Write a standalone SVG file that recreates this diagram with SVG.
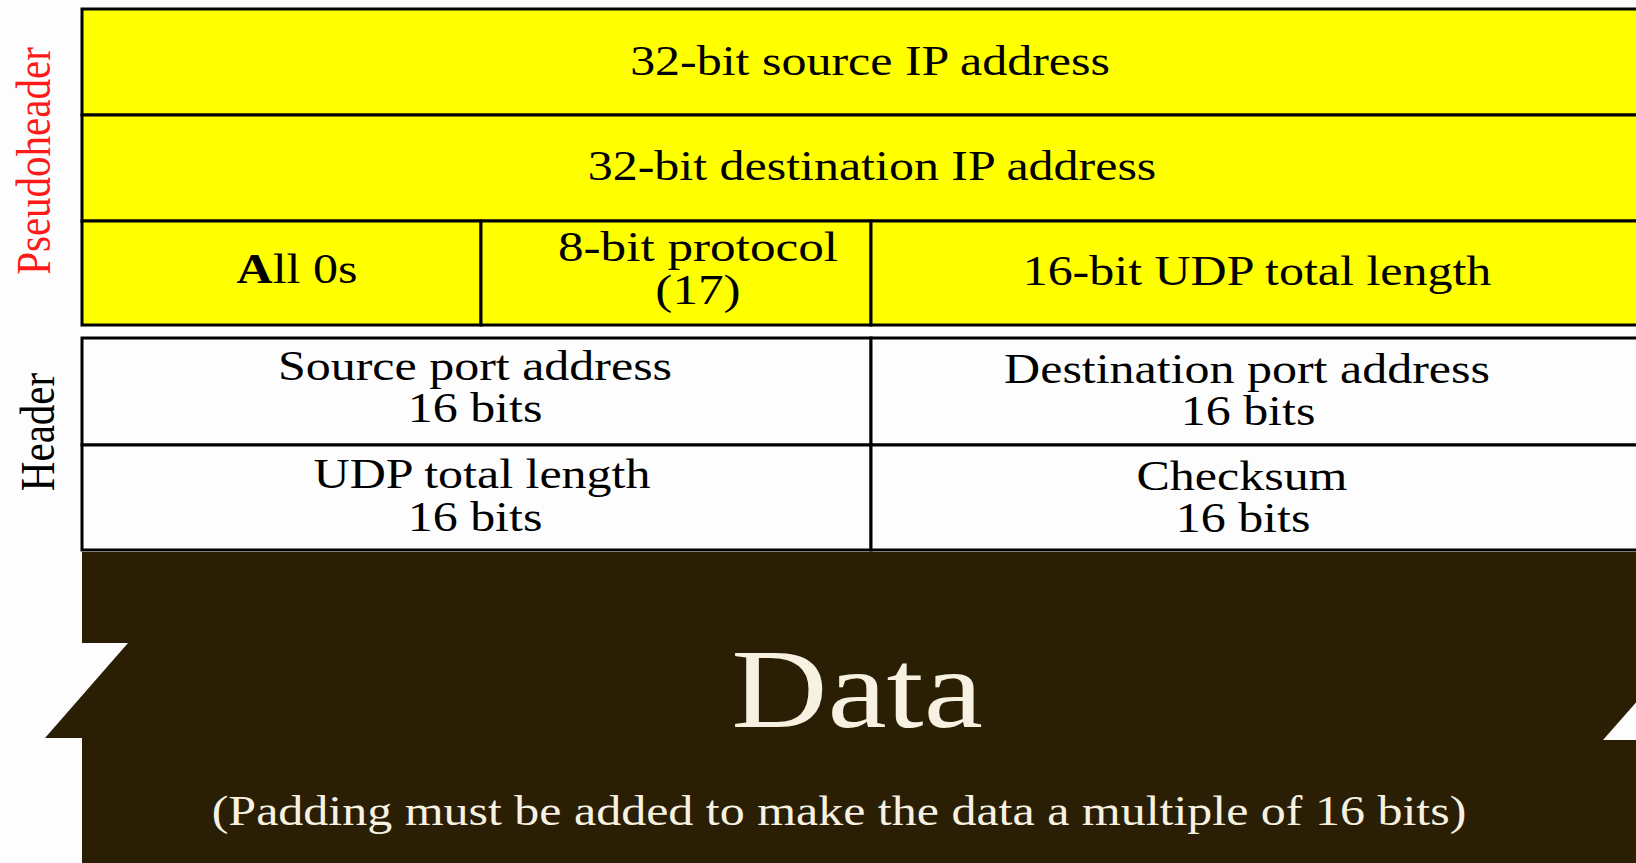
<svg xmlns="http://www.w3.org/2000/svg" width="1636" height="863" viewBox="0 0 1636 863">
  <style>
    .cell { stroke: #000; stroke-width: 3; }
    .pseudo { fill: #ffff00; }
    .hdr { fill: #fdfdfd; }
    .t { font-family: "Liberation Serif", "Times New Roman", serif; font-size: 42px; fill: #000; text-anchor: middle; }
    .side { font-family: "Liberation Serif", "Times New Roman", serif; font-size: 41px; text-anchor: middle; }
    .light { fill: #f7f1e1; font-family: "Liberation Serif", "Times New Roman", serif; text-anchor: middle; }
  </style>

  <rect x="0" y="0" width="1636" height="863" fill="#fdfdfd"/>

  <!-- side labels -->
  <g id="label-pseudoheader">
    <text class="side" fill="#ff1a1a" transform="translate(50,161) scale(1.19,1) rotate(-90)">Pseudoheader</text>
  </g>
  <g id="label-header">
    <text class="side" fill="#000" transform="translate(54,432) scale(1.19,1) rotate(-90)">Header</text>
  </g>

  <!-- pseudoheader rows -->
  <g id="src-ip">
    <rect class="cell pseudo" x="82" y="9" width="1580" height="106"/>
    <text class="t" transform="translate(870,75) scale(1.19,1)">32-bit source IP address</text>
  </g>
  <g id="dst-ip">
    <rect class="cell pseudo" x="82" y="115" width="1580" height="106"/>
    <text class="t" transform="translate(872,180) scale(1.19,1)">32-bit destination IP address</text>
  </g>
  <g id="all-zeros">
    <rect class="cell pseudo" x="82" y="221" width="399" height="104"/>
    <text class="t" transform="translate(297,283) scale(1.19,1)"><tspan font-weight="bold">A</tspan>ll 0s</text>
  </g>
  <g id="protocol">
    <rect class="cell pseudo" x="481" y="221" width="390" height="104"/>
    <text class="t" font-size="41" transform="translate(698,261) scale(1.22,1)">8-bit protocol</text>
    <text class="t" font-size="41" transform="translate(698,304) scale(1.22,1)">(17)</text>
  </g>
  <g id="udp-length-pseudo">
    <rect class="cell pseudo" x="871" y="221" width="791" height="104"/>
    <text class="t" transform="translate(1257,285) scale(1.19,1)">16-bit UDP total length</text>
  </g>

  <!-- UDP header rows -->
  <g id="src-port">
    <rect class="cell hdr" x="82" y="338" width="789" height="107"/>
    <text class="t" transform="translate(475,380) scale(1.19,1)">Source port address</text>
    <text class="t" transform="translate(475,422) scale(1.19,1)">16 bits</text>
  </g>
  <g id="dst-port">
    <rect class="cell hdr" x="871" y="338" width="791" height="107"/>
    <text class="t" transform="translate(1247,383) scale(1.19,1)">Destination port address</text>
    <text class="t" transform="translate(1248,425) scale(1.19,1)">16 bits</text>
  </g>
  <g id="udp-length">
    <rect class="cell hdr" x="82" y="445" width="789" height="105"/>
    <text class="t" transform="translate(482,488) scale(1.19,1)">UDP total length</text>
    <text class="t" transform="translate(475,531) scale(1.19,1)">16 bits</text>
  </g>
  <g id="checksum">
    <rect class="cell hdr" x="871" y="445" width="791" height="105"/>
    <text class="t" transform="translate(1242,490) scale(1.19,1)">Checksum</text>
    <text class="t" transform="translate(1243,532) scale(1.19,1)">16 bits</text>
  </g>

  <!-- data block with break marks on both sides -->
  <g id="data">
    <polygon fill="#2a1f04" points="82,552 1640,552 1640,863 82,863 82,738 45,738 128,643 82,643"/>
    <polygon fill="#fdfdfd" points="1603,740 1640,740 1640,698"/>
    <text class="light" font-size="112" transform="translate(857,727) scale(1.19,1)">Data</text>
    <text class="light" font-size="42" transform="translate(839,825) scale(1.19,1)">(Padding must be added to make the data a multiple of 16 bits)</text>
  </g>

  <g id="connectors"/>
</svg>
